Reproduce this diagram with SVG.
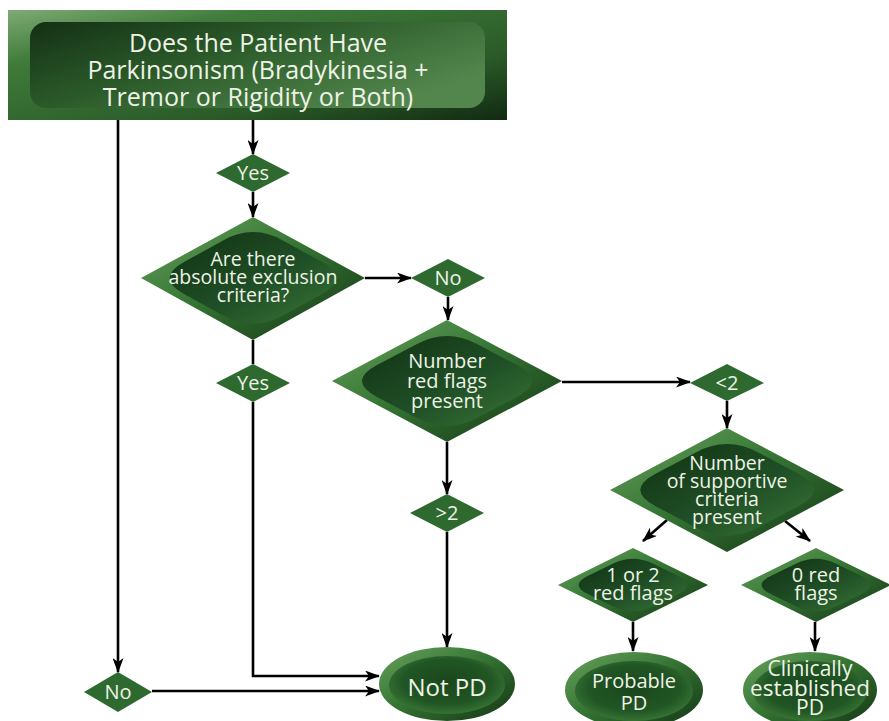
<svg xmlns="http://www.w3.org/2000/svg" width="889" height="721" viewBox="0 0 889 721">
<style>
  .t { font-family: "Open Sans", "Noto Sans", "DejaVu Sans", sans-serif; fill: #eef3e6; text-anchor: middle; }
  .conn { fill: none; stroke: #000; stroke-width: 2.6; }
  .arrow { marker-end: url(#ah); }
  .lab { fill: #2e6a30; }
  .outer { fill: url(#gOuter); }
  .inner { fill: url(#gInner); }
</style>
<defs>
  <marker id="ah" markerUnits="userSpaceOnUse" markerWidth="15" markerHeight="11" refX="14" refY="5.5" orient="auto">
    <path d="M0,0 L15,5.5 L0,11 L4,5.5 Z" fill="#000"/>
  </marker>
  <linearGradient id="gOuter" x1="0" y1="0" x2="1" y2="1">
    <stop offset="0" stop-color="#6aa35e"/>
    <stop offset="0.45" stop-color="#367634"/>
    <stop offset="1" stop-color="#133413"/>
  </linearGradient>
  <linearGradient id="gInner" x1="0" y1="0" x2="1" y2="1">
    <stop offset="0" stop-color="#113212"/>
    <stop offset="0.55" stop-color="#1f4f26"/>
    <stop offset="1" stop-color="#3a7637"/>
  </linearGradient>
  <linearGradient id="gBoxOuter" x1="0" y1="0" x2="1" y2="1">
    <stop offset="0" stop-color="#7eab74"/>
    <stop offset="0.25" stop-color="#3f7b3a"/>
    <stop offset="0.7" stop-color="#2a5a28"/>
    <stop offset="1" stop-color="#122a12"/>
  </linearGradient>
  <linearGradient id="gBoxInner" x1="0" y1="0" x2="1" y2="0.6">
    <stop offset="0" stop-color="#143014"/>
    <stop offset="0.5" stop-color="#2d5e2c"/>
    <stop offset="1" stop-color="#53864d"/>
  </linearGradient>
  <radialGradient id="gEll" cx="0.5" cy="0.45" r="0.55">
    <stop offset="0" stop-color="#1a461c"/>
    <stop offset="0.7" stop-color="#215624"/>
    <stop offset="1" stop-color="#377334"/>
  </radialGradient>
</defs>

<g id="connectors">
  <line class="conn arrow" x1="253" y1="120" x2="253" y2="154"/>
  <line class="conn arrow" x1="253" y1="192" x2="253" y2="217"/>
  <line class="conn arrow" x1="365" y1="278" x2="411" y2="278"/>
  <line class="conn arrow" x1="448" y1="297" x2="448" y2="320"/>
  <line class="conn" x1="253" y1="340" x2="253" y2="364"/>
  <polyline class="conn arrow" points="253,402 253,676 379,676"/>
  <line class="conn arrow" x1="118" y1="120" x2="118" y2="672"/>
  <line class="conn arrow" x1="152" y1="691" x2="379" y2="691"/>
  <line class="conn arrow" x1="447" y1="442" x2="447" y2="494"/>
  <line class="conn arrow" x1="447" y1="532" x2="447" y2="647"/>
  <line class="conn arrow" x1="562" y1="382" x2="690" y2="382"/>
  <line class="conn arrow" x1="727" y1="401" x2="727" y2="428"/>
  <line class="conn arrow" x1="667" y1="520" x2="643" y2="541"/>
  <line class="conn arrow" x1="785" y1="521" x2="810" y2="541"/>
  <line class="conn arrow" x1="633" y1="622" x2="633" y2="651"/>
  <line class="conn arrow" x1="815" y1="622" x2="815" y2="651"/>
</g>

<g id="start">
  <rect x="8" y="10" width="499" height="110" fill="url(#gBoxOuter)"/>
  <rect x="30" y="22" width="455" height="86" rx="16" fill="url(#gBoxInner)"/>
  <text class="t" font-size="25" x="258" y="52">Does the Patient Have</text>
  <text class="t" font-size="25" x="258" y="79">Parkinsonism (Bradykinesia +</text>
  <text class="t" font-size="25" x="258" y="106">Tremor or Rigidity or Both)</text>
</g>

<g id="yes1">
  <polygon class="lab" points="253,154 290,173 253,192 216,173"/>
  <text class="t" font-size="20" x="253" y="180">Yes</text>
</g>

<g id="exclusion">
  <polygon class="outer" points="253,217 365,278 253,340 141,278"/>
  <path class="inner" transform="translate(253,278)" d="M 29.4,-37.8 L 68.6,-16.2 Q 98,0 68.6,16.2 L 29.4,37.8 Q 0,54 -29.4,37.8 L -68.6,16.2 Q -98,0 -68.6,-16.2 L -29.4,-37.8 Q 0,-54 29.4,-37.8 Z"/>
  <text class="t" font-size="19.5" x="253" y="266">Are there</text>
  <text class="t" font-size="19.5" x="253" y="284">absolute exclusion</text>
  <text class="t" font-size="19.5" x="253" y="302">criteria?</text>
</g>

<g id="no1">
  <polygon class="lab" points="448,259 485,278 448,297 411,278"/>
  <text class="t" font-size="20" x="448" y="285">No</text>
</g>

<g id="yes2">
  <polygon class="lab" points="253,364 290,383 253,402 216,383"/>
  <text class="t" font-size="20" x="253" y="390">Yes</text>
</g>

<g id="redflags">
  <polygon class="outer" points="447,320 562,381 447,442 332,381"/>
  <path class="inner" transform="translate(447,381)" d="M 30,-37.1 L 70,-15.9 Q 100,0 70,15.9 L 30,37.1 Q 0,53 -30,37.1 L -70,15.9 Q -100,0 -70,-15.9 L -30,-37.1 Q 0,-53 30,-37.1 Z"/>
  <text class="t" font-size="20" x="447" y="368">Number</text>
  <text class="t" font-size="20" x="447" y="388">red flags</text>
  <text class="t" font-size="20" x="447" y="408">present</text>
</g>

<g id="gt2">
  <polygon class="lab" points="447,494 484,513 447,532 410,513"/>
  <text class="t" font-size="20" x="447" y="520">&gt;2</text>
</g>

<g id="lt2">
  <polygon class="lab" points="727,364 764,383 727,401 690,383"/>
  <text class="t" font-size="20" x="727" y="390">&lt;2</text>
</g>

<g id="supportive">
  <polygon class="outer" points="727,428 844,490 727,552 610,490"/>
  <path class="inner" transform="translate(727,490)" d="M 30.6,-37.8 L 71.4,-16.2 Q 102,0 71.4,16.2 L 30.6,37.8 Q 0,54 -30.6,37.8 L -71.4,16.2 Q -102,0 -71.4,-16.2 L -30.6,-37.8 Q 0,-54 30.6,-37.8 Z"/>
  <text class="t" font-size="19.5" x="727" y="470">Number</text>
  <text class="t" font-size="19.5" x="727" y="488">of supportive</text>
  <text class="t" font-size="19.5" x="727" y="506">criteria</text>
  <text class="t" font-size="19.5" x="727" y="524">present</text>
</g>

<g id="flags12">
  <polygon class="outer" points="633,548 708,585 633,622 558,585"/>
  <path class="inner" transform="translate(633,585)" d="M 19.2,-21.7 L 44.8,-9.3 Q 64,0 44.8,9.3 L 19.2,21.7 Q 0,31 -19.2,21.7 L -44.8,9.3 Q -64,0 -44.8,-9.3 L -19.2,-21.7 Q 0,-31 19.2,-21.7 Z"/>
  <text class="t" font-size="20" x="633" y="582">1 or 2</text>
  <text class="t" font-size="20" x="633" y="600">red flags</text>
</g>

<g id="flags0">
  <polygon class="outer" points="816,548 891,585 816,622 741,585"/>
  <path class="inner" transform="translate(816,585)" d="M 19.2,-21.7 L 44.8,-9.3 Q 64,0 44.8,9.3 L 19.2,21.7 Q 0,31 -19.2,21.7 L -44.8,9.3 Q -64,0 -44.8,-9.3 L -19.2,-21.7 Q 0,-31 19.2,-21.7 Z"/>
  <text class="t" font-size="20" x="816" y="582">0 red</text>
  <text class="t" font-size="20" x="816" y="600">flags</text>
</g>

<g id="no2">
  <polygon class="lab" points="118,672 152,692 118,712 84,692"/>
  <text class="t" font-size="20" x="118" y="699">No</text>
</g>

<g id="notpd">
  <ellipse class="outer" cx="447" cy="684" rx="68" ry="37"/>
  <ellipse cx="447" cy="685" rx="58" ry="29" fill="url(#gEll)"/>
  <text class="t" font-size="24" x="447" y="696">Not PD</text>
</g>

<g id="probable">
  <ellipse class="outer" cx="634" cy="690" rx="69" ry="38"/>
  <ellipse cx="634" cy="691" rx="59" ry="30" fill="url(#gEll)"/>
  <text class="t" font-size="20" x="634" y="688">Probable</text>
  <text class="t" font-size="20" x="634" y="710">PD</text>
</g>

<g id="established">
  <ellipse class="outer" cx="810" cy="690" rx="67" ry="38"/>
  <ellipse cx="810" cy="691" rx="57" ry="30" fill="url(#gEll)"/>
  <text class="t" font-size="21" x="810" y="676">Clinically</text>
  <text class="t" font-size="22.5" x="810" y="696">established</text>
  <text class="t" font-size="21" x="810" y="715">PD</text>
</g>
</svg>
